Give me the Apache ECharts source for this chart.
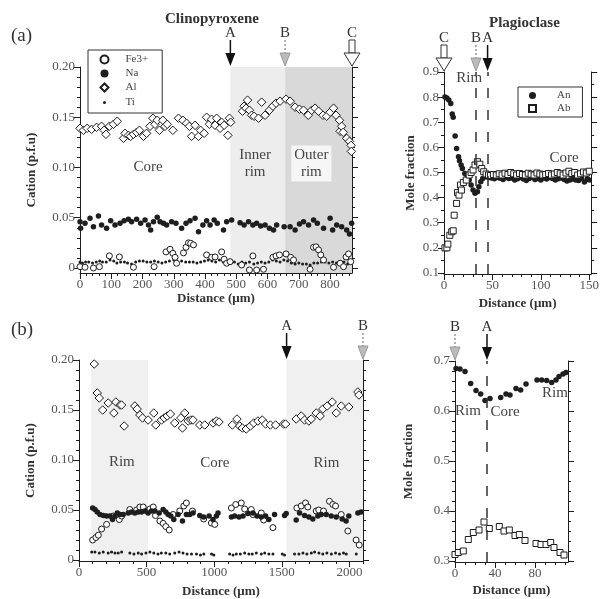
<!DOCTYPE html>
<html>
<head>
<meta charset="UTF-8" />
<script type="text/javascript" src="https://cdn.jsdelivr.net/npm/echarts@6/dist/echarts.min.js"></script>
<style>
  html, body { margin: 0; padding: 0; background: #fff; }
  #main { width: 602px; height: 599px; }
</style>
</head>
<body>
<div id="main"></div>
<script type="text/javascript">
var SERIF = '"Liberation Serif", "DejaVu Serif", serif';
var INK = '#1e1e1e';

// ---- (a) clinopyroxene profile, distance in um, cation p.f.u.
var cpxA_fe = [[0,0.0013],[16,0.0007],[43,0.000],[62,0.0013],[94,0.012],[126,0.011],[171,0.0007],[237,0.0013],
  [275,0.016],[288,0.0186],[297,0.0146],[304,0.0106],[309,0.0047],[331,0.015],[339,0.0206],[347,0.025],[354,0.0246],
  [363,0.023],[405,0.013],[421,0.0106],[432,0.011],[453,0.016],[461,0.0087],[469,0.0047],[480,0.0063],[517,0.003],
  [542,-0.002],[553,0.012],[565,-0.002],[587,-0.0013],[617,0.0106],[627,0.012],[638,0.013],[659,0.014],[674,0.0106],
  [683,0.008],[736,-0.0013],[747,0.0206],[755,0.021],[763,0.018],[770,0.013],[779,0.008],[811,0.0007],[832,0.0047],
  [843,0.0013],[851,0.011],[859,0.014],[866,0.0063]];
var cpxA_na = [[0,0.046],[2,0.0395],[16,0.0445],[32,0.0495],[43,0.041],[59,0.0517],[69,0.0428],[85,0.0395],[98,0.047],
  [112,0.0428],[128,0.0445],[141,0.047],[155,0.0485],[165,0.046],[181,0.0485],[194,0.0445],[208,0.0478],[219,0.0428],
  [226,0.0378],[235,0.046],[247,0.0504],[256,0.046],[267,0.0445],[277,0.0428],[293,0.046],[307,0.0445],[325,0.0395],
  [339,0.0445],[352,0.047],[368,0.0495],[379,0.0361],[393,0.0428],[405,0.047],[416,0.0428],[429,0.0478],[439,0.0445],
  [459,0.0378],[469,0.046],[485,0.0478],[512,0.045],[525,0.0428],[539,0.046],[553,0.0428],[565,0.0445],[578,0.0418],
  [592,0.0428],[606,0.0395],[619,0.0378],[629,0.0428],[653,0.041],[672,0.041],[688,0.0378],[702,0.0438],[715,0.046],
  [731,0.0428],[747,0.0478],[759,0.0445],[779,0.0395],[800,0.0495],[808,0.0378],[821,0.0428],[837,0.041],[853,0.0378],
  [862,0.0338],[869,0.0445]];
var cpxA_al = [[0,0.139],[11,0.137],[23,0.139],[37,0.138],[53,0.140],[69,0.141],[77,0.137],[83,0.133],[94,0.141],
  [107,0.143],[119,0.146],[139,0.129],[144,0.134],[155,0.132],[162,0.131],[171,0.133],[181,0.135],[190,0.137],
  [203,0.131],[213,0.134],[224,0.141],[233,0.149],[240,0.143],[247,0.147],[254,0.137],[265,0.147],[272,0.141],
  [279,0.143],[297,0.137],[315,0.149],[329,0.147],[341,0.144],[350,0.141],[357,0.131],[368,0.142],[379,0.131],
  [386,0.137],[397,0.134],[405,0.150],[414,0.143],[421,0.148],[432,0.142],[437,0.149],[448,0.139],[453,0.145],
  [461,0.142],[473,0.132],[478,0.149],[482,0.145],[520,0.156],[525,0.161],[531,0.159],[536,0.167],[542,0.157],
  [549,0.152],[557,0.151],[571,0.149],[581,0.165],[592,0.152],[606,0.157],[617,0.161],[627,0.164],[640,0.166],
  [659,0.168],[672,0.166],[688,0.160],[702,0.158],[715,0.157],[730,0.152],[741,0.157],[752,0.159],[763,0.156],
  [777,0.152],[789,0.151],[800,0.155],[811,0.159],[819,0.152],[830,0.147],[832,0.136],[837,0.141],[842,0.135],
  [853,0.129],[862,0.126],[867,0.122],[868,0.116]];
var cpxA_ti = [[0,0.006],[8,0.005],[18,0.006],[28,0.006],[40,0.005],[52,0.006],[63,0.007],[72,0.006],[84,0.006],
  [96,0.008],[108,0.007],[118,0.005],[130,0.006],[142,0.006],[152,0.005],[165,0.004],[178,0.006],[190,0.007],
  [202,0.007],[214,0.006],[226,0.006],[238,0.007],[250,0.006],[262,0.005],[274,0.006],[286,0.007],[300,0.008],
  [312,0.006],[325,0.007],[338,0.006],[350,0.006],[362,0.006],[374,0.005],[386,0.006],[398,0.007],[410,0.008],
  [422,0.007],[434,0.006],[446,0.008],[458,0.006],[470,0.005],[482,0.005],[494,0.006],[506,0.004],[518,0.006],
  [530,0.005],[542,0.006],[556,0.004],[568,0.005],[580,0.006],[592,0.005],[604,0.006],[616,0.008],[628,0.007],
  [640,0.006],[652,0.008],[664,0.007],[676,0.005],[688,0.004],[700,0.005],[712,0.004],[724,0.004],[736,0.003],
  [748,0.005],[760,0.005],[772,0.006],[784,0.006],[796,0.005],[808,0.006],[820,0.005],[832,0.005],[844,0.006],
  [856,0.004],[866,0.005]];

// ---- (a) plagioclase profile, mole fraction
var plgA_an = [[1,0.80],[3,0.797],[5,0.789],[7,0.775],[8.5,0.733],[9.5,0.72],[11.5,0.645],[13,0.596],[15,0.563],
  [16,0.547],[17.7,0.53],[19,0.516],[21.5,0.496],[24,0.483],[26,0.47],[28,0.45],[30,0.43],[32,0.417],[34.5,0.423],
  [36,0.443],[38,0.463],[40,0.476],[43,0.483],[46,0.48],[49,0.478],[52,0.475],[55,0.48],[58,0.477],[61,0.472],
  [64,0.48],[67,0.476],[70,0.478],[73,0.47],[76,0.475],[79,0.48],[82,0.474],[85,0.468],[88,0.476],[91,0.48],
  [94,0.472],[97,0.476],[100,0.47],[103,0.478],[106,0.474],[109,0.48],[112,0.476],[115,0.47],[118,0.475],
  [121,0.478],[124,0.472],[127,0.466],[130,0.47],[133,0.474],[136,0.47],[139,0.468],[142,0.476],[145,0.462],
  [148,0.475],[150,0.47]];
var plgA_ab = [[1,0.2],[3,0.2],[4,0.215],[6,0.25],[8,0.264],[9.5,0.268],[10.5,0.33],[13,0.377],[14,0.42],[15.5,0.41],
  [17,0.45],[18,0.43],[20,0.46],[23,0.47],[26,0.49],[28,0.5],[30,0.51],[32,0.53],[34.5,0.543],[37,0.533],[39,0.516],
  [41,0.503],[43.5,0.494],[46,0.49],[48,0.488],[51,0.492],[54,0.49],[57,0.495],[60,0.49],[63,0.497],[66,0.492],
  [69,0.5],[72,0.495],[75,0.49],[78,0.496],[81,0.492],[84,0.49],[87,0.497],[90,0.493],[93,0.49],[96,0.498],
  [99,0.494],[102,0.49],[105,0.492],[108,0.496],[111,0.49],[114,0.494],[117,0.5],[120,0.495],[123,0.49],[126,0.498],
  [129,0.505],[132,0.496],[135,0.5],[138,0.49],[141,0.495],[144,0.502],[147,0.498],[150,0.505]];

// ---- (b) clinopyroxene profile
var cpxB_fe = [[101,0.020],[125,0.0225],[143,0.0248],[167,0.031],[204,0.0356],[253,0.044],[298,0.0405],[315,0.044],
  [376,0.0505],[426,0.050],[450,0.053],[475,0.053],[505,0.049],[524,0.051],[549,0.053],[565,0.0445],[598,0.039],
  [622,0.0366],[642,0.0334],[667,0.030],[696,0.0455],[745,0.049],[775,0.054],[794,0.057],[839,0.049],[922,0.041],
  [979,0.037],[1004,0.0356],[1127,0.052],[1159,0.0555],[1200,0.057],[1225,0.051],[1274,0.0505],[1286,0.0455],
  [1348,0.047],[1365,0.040],[1434,0.0324],[1611,0.052],[1643,0.054],[1675,0.057],[1692,0.053],[1754,0.049],
  [1773,0.050],[1808,0.049],[1852,0.0587],[1877,0.0555],[1897,0.054],[1939,0.0455],[1988,0.029],[2049,0.020],
  [2072,0.015]];
var cpxB_na = [[101,0.052],[118,0.0505],[135,0.048],[155,0.0455],[180,0.0445],[204,0.044],[229,0.044],[248,0.0405],
  [266,0.044],[283,0.047],[303,0.0455],[327,0.0455],[364,0.047],[388,0.048],[413,0.047],[438,0.048],[462,0.048],
  [487,0.049],[511,0.047],[536,0.049],[561,0.049],[593,0.047],[622,0.0505],[642,0.048],[659,0.0455],[679,0.044],
  [701,0.0405],[733,0.0455],[765,0.039],[794,0.0455],[819,0.0455],[843,0.047],[893,0.0445],[922,0.043],[962,0.044],
  [991,0.0405],[1016,0.044],[1028,0.047],[1127,0.043],[1151,0.044],[1183,0.043],[1213,0.044],[1249,0.0465],
  [1286,0.047],[1316,0.044],[1348,0.043],[1380,0.044],[1404,0.0405],[1446,0.0455],[1520,0.0445],[1532,0.0465],
  [1606,0.040],[1631,0.047],[1668,0.0445],[1700,0.043],[1729,0.041],[1766,0.044],[1791,0.0455],[1828,0.0455],
  [1865,0.044],[1902,0.043],[1946,0.041],[1975,0.039],[1995,0.044],[2062,0.047],[2086,0.048]];
var cpxB_al = [[113,0.196],[135,0.167],[150,0.162],[175,0.150],[216,0.157],[258,0.147],[273,0.158],[303,0.155],
  [315,0.155],[334,0.134],[413,0.154],[430,0.151],[450,0.145],[470,0.142],[511,0.140],[553,0.147],[568,0.135],
  [610,0.140],[630,0.142],[652,0.144],[676,0.146],[708,0.137],[753,0.142],[765,0.132],[782,0.147],[807,0.139],
  [827,0.140],[843,0.140],[893,0.135],[930,0.135],[991,0.137],[1016,0.139],[1035,0.138],[1134,0.135],[1168,0.141],
  [1188,0.134],[1208,0.132],[1237,0.131],[1267,0.134],[1292,0.137],[1323,0.139],[1355,0.140],[1380,0.136],
  [1415,0.135],[1454,0.135],[1513,0.136],[1527,0.136],[1606,0.141],[1643,0.144],[1668,0.140],[1700,0.139],
  [1717,0.141],[1754,0.147],[1783,0.144],[1803,0.151],[1835,0.154],[1872,0.158],[1902,0.147],[1939,0.154],
  [1995,0.153],[2062,0.168],[2070,0.165]];
var cpxB_ti = [[94,0.008],[118,0.008],[150,0.007],[179,0.008],[216,0.007],[241,0.008],[266,0.007],[290,0.007],
  [315,0.008],[376,0.007],[406,0.006],[438,0.007],[463,0.006],[495,0.007],[524,0.008],[553,0.007],[584,0.006],
  [609,0.007],[642,0.007],[671,0.006],[708,0.007],[740,0.008],[769,0.007],[799,0.006],[832,0.006],[869,0.006],
  [898,0.005],[923,0.006],[980,0.006],[997,0.005],[1114,0.006],[1139,0.005],[1163,0.006],[1193,0.006],[1225,0.007],
  [1256,0.006],[1281,0.006],[1311,0.007],[1348,0.006],[1373,0.007],[1404,0.006],[1434,0.006],[1503,0.006],
  [1520,0.005],[1594,0.006],[1626,0.006],[1656,0.007],[1685,0.006],[1718,0.007],[1742,0.008],[1774,0.007],
  [1803,0.006],[1833,0.007],[1866,0.006],[1897,0.007],[1926,0.006],[1956,0.007],[1976,0.006],[2050,0.006]];

// ---- (b) plagioclase profile
var plgB_an = [[1,0.685],[5,0.684],[10,0.679],[15.7,0.655],[21,0.641],[25.7,0.634],[30,0.621],[35,0.625],
  [45.7,0.627],[51,0.634],[55,0.632],[61,0.645],[65.7,0.642],[71,0.654],[82,0.662],[86.7,0.662],[91.7,0.661],
  [96.7,0.657],[101,0.662],[104,0.669],[108,0.674],[111,0.677]];
var plgB_ab = [[0,0.313],[3.3,0.317],[8.3,0.320],[13.3,0.343],[18.3,0.357],[24,0.362],[29,0.378],[34.3,0.365],
  [44.3,0.369],[49,0.360],[54.3,0.362],[60,0.351],[64.3,0.353],[70,0.341],[81,0.335],[86,0.333],[91,0.333],
  [95.7,0.337],[99,0.327],[105,0.317],[109,0.312]];

// tick labels
var cpxA_xt = [0, 100, 200, 300, 400, 500, 600, 700, 800];
var cpxB_xt = [0, 500, 1000, 1500, 2000];
var plgA_xt = [0, 50, 100, 150];
var plgB_xt = [0, 40, 80];
var cpx_yt = [0, 0.05, 0.10, 0.15, 0.20];
var plgA_yt = [0.1, 0.2, 0.3, 0.4, 0.5, 0.6, 0.7, 0.8, 0.9];
var plgB_yt = [0.3, 0.4, 0.5, 0.6, 0.7];

// zones, markers and labels
var cpxA_zones = [[481, 656, '#ededed'], [656, 870, '#d9d9d9']];
var cpxB_zones = [[90, 510, '#f0f0f0'], [1535, 2100, '#f0f0f0']];
var plgA_dash = [33, 45];
var plgB_dash = [32];
var arrows = [ // grid, x, kind, letter
  [0, 481, 'solid', 'A'], [0, 656, 'gray', 'B'], [0, 870, 'open', 'C'],
  [1, 0, 'open', 'C'], [1, 33, 'gray', 'B'], [1, 45, 'solid', 'A'],
  [2, 1535, 'solid', 'A'], [2, 2100, 'gray', 'B'],
  [3, 0, 'gray', 'B'], [3, 32, 'solid', 'A']
];
var notes = [ // grid, x, y, text
  [0, 218, 0.100, 'Core'], [0, 560, 0.104, 'Inner\nrim'], [0, 740, 0.104, 'Outer\nrim'],
  [1, 26, 0.876, 'Rim'], [1, 124, 0.557, 'Core'],
  [2, 317, 0.098, 'Rim'], [2, 1004, 0.097, 'Core'], [2, 1830, 0.097, 'Rim'],
  [3, 13, 0.600, 'Rim'], [3, 50, 0.598, 'Core'], [3, 100, 0.636, 'Rim']
];

var grids = [
  { left: 80, top: 67, width: 272, height: 206 },
  { left: 444, top: 72, width: 151, height: 202 },
  { left: 79, top: 360, width: 284, height: 201 },
  { left: 455, top: 361, width: 113, height: 201 }
];

function steps(a, b, s) {
  var r = [];
  for (var v = a; v <= b + 1e-9; v += s) r.push(Math.round(v * 1000) / 1000);
  return r;
}
var lineSt = { color: INK, width: 1 };
var nameSt = { fontFamily: SERIF, fontSize: 13, fontWeight: 'bold', color: '#333' };
function lbl(extra) {
  return Object.assign({ fontFamily: SERIF, fontSize: 13, color: '#555', margin: 5 }, extra);
}

function xPair(gi, min, max, majors, minors, gap) {
  return [{
    gridIndex: gi, type: 'value', position: 'bottom', min: min, max: max,
    name: 'Distance (\u03bcm)', nameLocation: 'middle', nameGap: gap, nameTextStyle: nameSt,
    axisLine: { show: true, onZero: false, lineStyle: lineSt },
    axisTick: { show: true, customValues: majors, length: 6, lineStyle: lineSt },
    axisLabel: lbl({ customValues: majors, formatter: function (v) { return String(v); } }),
    splitLine: { show: false }
  }, {
    gridIndex: gi, type: 'value', position: 'bottom', min: min, max: max,
    axisLine: { show: false, onZero: false },
    axisTick: { show: true, customValues: minors, length: 3, lineStyle: lineSt },
    axisLabel: { show: false }, splitLine: { show: false }
  }];
}
function yQuad(gi, min, max, majors, minors, name, gap, fmt) {
  var out = [];
  ['left', 'right'].forEach(function (pos) {
    out.push({
      gridIndex: gi, type: 'value', position: pos, min: min, max: max,
      name: pos === 'left' ? name : '', nameLocation: 'middle', nameGap: gap, nameTextStyle: nameSt,
      axisLine: { show: true, onZero: false, lineStyle: lineSt },
      axisTick: { show: true, customValues: majors, length: 6, lineStyle: lineSt },
      axisLabel: pos === 'left' ? lbl({ customValues: majors, formatter: fmt }) : { show: false },
      splitLine: { show: false }
    });
    out.push({
      gridIndex: gi, type: 'value', position: pos, min: min, max: max,
      axisLine: { show: false, onZero: false },
      axisTick: { show: true, customValues: minors, length: 3, lineStyle: lineSt },
      axisLabel: { show: false }, splitLine: { show: false }
    });
  });
  return out;
}
var fmt2 = function (v) { return v === 0 ? '0' : v.toFixed(2); };
var fmt1 = function (v) { return v.toFixed(1); };

function pts(name, gi, data, symbol, size, hollow) {
  return {
    name: name, type: 'scatter', xAxisIndex: 2 * gi, yAxisIndex: 4 * gi, data: data,
    symbol: symbol, symbolSize: size, z: 3, silent: true,
    itemStyle: hollow ? { color: '#fff', borderColor: INK, borderWidth: 1, opacity: 1 }
                      : { color: INK, borderWidth: 0, opacity: 1 }
  };
}
function zones(gi, list) {
  return {
    type: 'scatter', xAxisIndex: 2 * gi, yAxisIndex: 4 * gi, data: [], z: 1, silent: true,
    markArea: { silent: true, data: list.map(function (z) {
      return [{ xAxis: z[0], itemStyle: { color: z[2] } }, { xAxis: z[1] }];
    }) }
  };
}
function dashes(gi, list) {
  return {
    type: 'scatter', xAxisIndex: 2 * gi, yAxisIndex: 4 * gi, data: [], z: 2, silent: true,
    markLine: {
      silent: true, symbol: 'none', label: { show: false }, animation: false,
      lineStyle: { color: '#333', width: 1.5, type: [10, 12] },
      data: list.map(function (x) { return { xAxis: x }; })
    }
  };
}

var option = {
  animation: false,
  backgroundColor: '#fff',
  title: [
    { text: 'Clinopyroxene', left: 160, top: 7, textStyle: { fontFamily: SERIF, fontSize: 15, fontWeight: 'bold', color: '#333' } },
    { text: 'Plagioclase', left: 484, top: 11, textStyle: { fontFamily: SERIF, fontSize: 15, fontWeight: 'bold', color: '#333' } },
    { text: '(a)', left: 6, top: 22, textStyle: { fontFamily: SERIF, fontSize: 19, fontWeight: 'normal', color: '#333' } },
    { text: '(b)', left: 6, top: 316, textStyle: { fontFamily: SERIF, fontSize: 19, fontWeight: 'normal', color: '#333' } }
  ],
  legend: [{
    left: 88, top: 50, orient: 'vertical', selectedMode: false,
    borderColor: '#333', borderWidth: 1, borderRadius: 0, padding: [4, 14, 4, 10], itemGap: 3,
    itemWidth: 8, itemHeight: 8,
    textStyle: { fontFamily: SERIF, fontSize: 11, color: '#444', padding: [0, 0, 0, 12] },
    data: [{ name: 'Fe3+' }, { name: 'Na' }, { name: 'Al' },
      { name: 'Ti', itemStyle: { color: INK, borderColor: '#fff', borderWidth: 5 } }]
  }, {
    left: 518, top: 87, orient: 'vertical', selectedMode: false,
    borderColor: '#333', borderWidth: 1, borderRadius: 0, padding: [3, 12, 3, 10], itemGap: 2,
    itemWidth: 7, itemHeight: 7,
    textStyle: { fontFamily: SERIF, fontSize: 11, color: '#444', padding: [0, 0, 0, 16] },
    data: ['An', 'Ab']
  }],
  grid: grids,
  xAxis: [].concat(
    xPair(0, 0, 870, cpxA_xt, steps(0, 860, 20), 19),
    xPair(1, 0, 152, plgA_xt, steps(0, 150, 10), 23),
    xPair(2, 0, 2100, cpxB_xt, steps(0, 2100, 100), 24),
    xPair(3, 0, 113, plgB_xt, steps(0, 110, 10), 22)
  ),
  yAxis: [].concat(
    yQuad(0, -0.005, 0.2, cpx_yt, steps(0, 0.2, 0.01), 'Cation (p.f.u)', 42, fmt2),
    yQuad(1, 0.096, 0.9, plgA_yt, steps(0.1, 0.9, 0.05), 'Mole fraction', 27, fmt1),
    yQuad(2, -0.001, 0.2, cpx_yt, steps(0, 0.2, 0.01), 'Cation (p.f.u)', 42, fmt2),
    yQuad(3, 0.298, 0.7, plgB_yt, steps(0.3, 0.7, 0.02), 'Mole fraction', 40, fmt1)
  ),
  series: [
    zones(0, cpxA_zones),
    pts('Ti', 0, cpxA_ti, 'circle', 3, false),
    pts('Fe3+', 0, cpxA_fe, 'circle', 6, true),
    pts('Na', 0, cpxA_na, 'circle', 5.5, false),
    pts('Al', 0, cpxA_al, 'diamond', 8.5, true),

    dashes(1, plgA_dash),
    pts('An', 1, plgA_an, 'circle', 5.5, false),
    pts('Ab', 1, plgA_ab, 'rect', 6, true),

    zones(2, cpxB_zones),
    pts('Ti', 2, cpxB_ti, 'circle', 3, false),
    pts('Fe3+', 2, cpxB_fe, 'circle', 6, true),
    pts('Na', 2, cpxB_na, 'circle', 5.5, false),
    pts('Al', 2, cpxB_al, 'diamond', 8.5, true),

    dashes(3, plgB_dash),
    pts('An', 3, plgB_an, 'circle', 5.5, false),
    pts('Ab', 3, plgB_ab, 'rect', 6, true)
  ]
};

var chart = echarts.init(document.getElementById('main'));
chart.setOption(option);

// annotations placed from data coordinates
function toPx(gi, x, y) {
  return [chart.convertToPixel({ xAxisIndex: 2 * gi }, x), chart.convertToPixel({ yAxisIndex: 4 * gi }, y)];
}
function arrowEls(x, top, kind, letter) {
  var els = [{ type: 'text', x: x, y: top - 34, z: 20,
    style: { text: letter, font: '15px ' + SERIF, fill: '#333', align: 'center', verticalAlign: 'middle' } }];
  var y0 = top - 27, y1 = top - 14, tip = top - 1;
  if (kind === 'open') {
    els.push({ type: 'rect', z: 20, shape: { x: x - 3, y: y0, width: 6, height: y1 - y0 },
      style: { fill: '#fff', stroke: '#333', lineWidth: 1 } });
    els.push({ type: 'polygon', z: 20, shape: { points: [[x - 8, y1], [x + 8, y1], [x, tip]] },
      style: { fill: '#fff', stroke: '#333', lineWidth: 1 } });
  } else if (kind === 'gray') {
    els.push({ type: 'line', z: 20, shape: { x1: x, y1: y0, x2: x, y2: y1 },
      style: { stroke: '#999', lineWidth: 1.5, lineDash: [2, 2] } });
    els.push({ type: 'polygon', z: 20, shape: { points: [[x - 5, y1], [x + 5, y1], [x, tip]] },
      style: { fill: '#bbb', stroke: '#999', lineWidth: 1 } });
  } else {
    els.push({ type: 'line', z: 20, shape: { x1: x, y1: y0, x2: x, y2: y1 + 2 },
      style: { stroke: '#111', lineWidth: 1.5 } });
    els.push({ type: 'polygon', z: 20, shape: { points: [[x - 5, y1], [x + 5, y1], [x, tip]] },
      style: { fill: '#111' } });
  }
  return els;
}
var gfx = [];
arrows.forEach(function (a) {
  var x = chart.convertToPixel({ xAxisIndex: 2 * a[0] }, a[1]);
  gfx = gfx.concat(arrowEls(x, grids[a[0]].top, a[2], a[3]));
});
notes.forEach(function (n) {
  var p = toPx(n[0], n[1], n[2]);
  gfx.push({ type: 'text', x: p[0], y: p[1], z: 20,
    style: { text: n[3], font: '15px ' + SERIF, fill: '#444', align: 'center', verticalAlign: 'middle',
      lineHeight: 17, backgroundColor: n[3] === 'Outer\nrim' ? '#f6f6f6' : null, padding: [1, 3] } });
});
chart.setOption({ graphic: gfx });
</script>
</body>
</html>
